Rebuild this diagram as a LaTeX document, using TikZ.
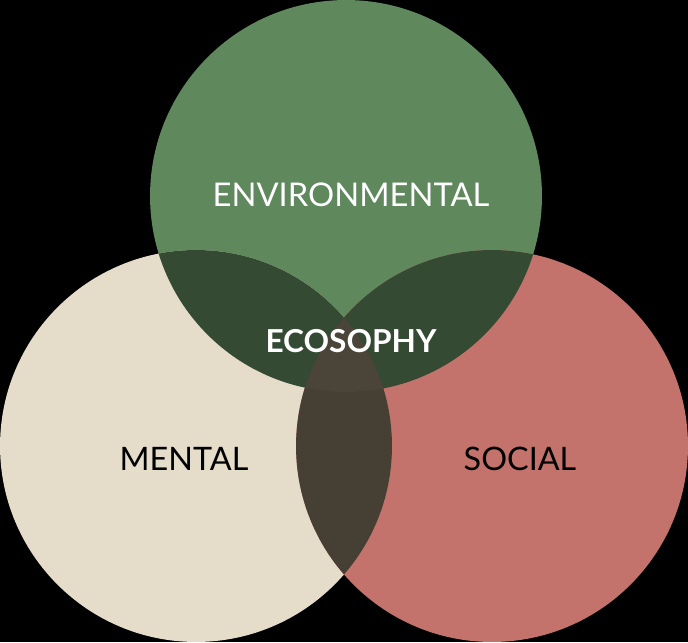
\documentclass[tikz,border=0pt]{standalone}
\usepackage{fontspec}
\setmainfont{Lato}
\usetikzlibrary{positioning}
\definecolor{envgreen}{HTML}{5F885D}
\definecolor{mentbeige}{HTML}{E6DCCA}
\definecolor{socred}{HTML}{C4736C}
\definecolor{darkgreen}{HTML}{344A33}
\definecolor{darkbrown}{HTML}{454033}
\definecolor{corebrown}{HTML}{4A4439}

\begin{document}
\begin{tikzpicture}[x=0.02cm,y=0.02cm]
  \tikzstyle{lbl}=[font=\fontsize{18.4}{20}\selectfont,inner sep=0pt]
  \fill[black] (0,0) rectangle (688,642);
  \coordinate (env) at (346,446);
  \coordinate (men) at (196,196);
  \coordinate (soc) at (492,196);
  \fill[envgreen] (env) circle (3.92cm);
  \fill[mentbeige] (men) circle (3.92cm);
  \fill[socred] (soc) circle (3.92cm);
  \begin{scope}
    \clip (env) circle (3.92cm);
    \fill[darkgreen] (men) circle (3.92cm);
    \fill[darkgreen] (soc) circle (3.92cm);
  \end{scope}
  \begin{scope}
    \clip (men) circle (3.92cm);
    \fill[darkbrown] (soc) circle (3.92cm);
    \clip (soc) circle (3.92cm);
    \fill[corebrown] (env) circle (3.92cm);
  \end{scope}

  \node[lbl,white,font=\fontsize{18.6}{20}\selectfont] (envlbl) at (351,447) {ENVIRONMENTAL};
  \node[lbl,white,font=\fontsize{18}{20}\selectfont\bfseries] (ecolbl) at (351,301) {ECOSOPHY};
  \node[lbl,black] (menlbl) at (184,183) {MENTAL};
  \node[lbl,black] (soclbl) at (520,183) {SOCIAL};
\end{tikzpicture}
\end{document}
